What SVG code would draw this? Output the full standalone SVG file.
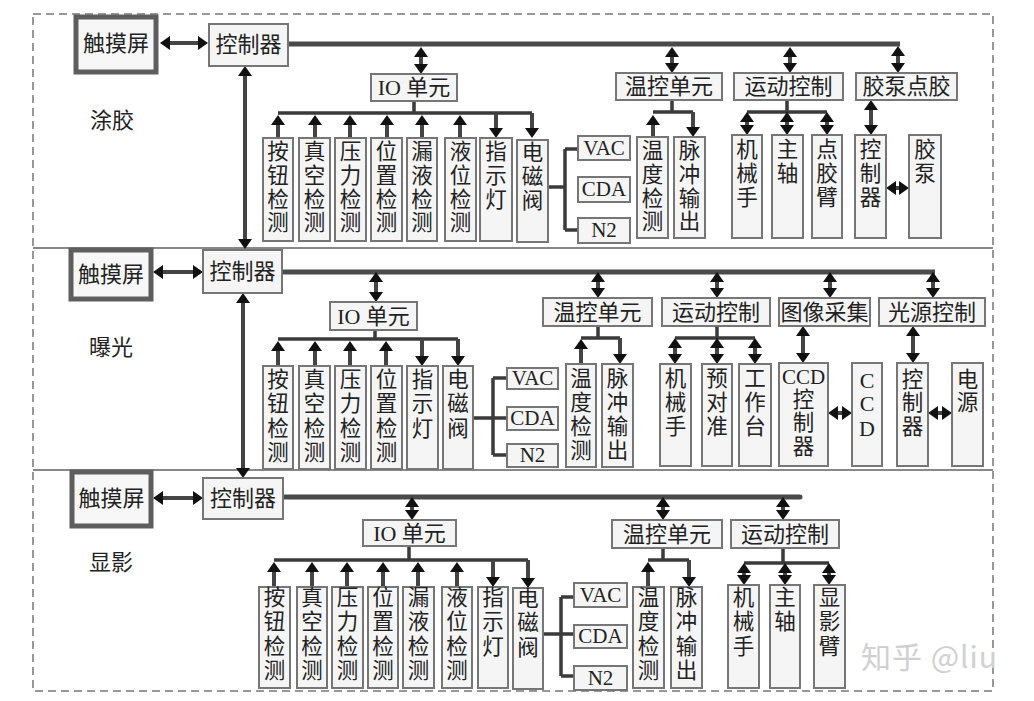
<svg xmlns="http://www.w3.org/2000/svg" width="1034" height="701" viewBox="0 0 1034 701">
<style>
.bx{fill:#f5f5f5;stroke:#767676;stroke-width:2}
.ts{fill:#f7f7f7;stroke:#5e5e5e;stroke-width:5}
.t{font-family:"Liberation Serif","Noto Sans CJK SC",serif;font-size:21px;fill:#222;text-anchor:middle}
.h{font-family:"Liberation Serif","Noto Sans CJK SC",serif;font-size:22px;fill:#222;text-anchor:middle}
.v{font-family:"Liberation Serif","Noto Sans CJK SC",serif;font-size:21.5px;fill:#222;text-anchor:middle}
.bus{stroke:#4a4a4a;stroke-width:5;fill:none}
.ln{stroke:#3a3a3a;stroke-width:3.5;fill:none}
.a2{stroke:#444;stroke-width:4;fill:none;marker-start:url(#ah);marker-end:url(#ah)}
.a1{stroke:#444;stroke-width:4;fill:none;marker-end:url(#ah)}
</style>
<defs>
<marker id="ah" viewBox="0 0 10 14" refX="4" refY="7" markerWidth="10" markerHeight="14" markerUnits="userSpaceOnUse" orient="auto-start-reverse"><path d="M0,0 L10,7 L0,14 z" fill="#111"/></marker>
</defs>
<rect x="0" y="0" width="1034" height="701" fill="#fff"/>
<rect x="33" y="14" width="960" height="677" fill="none" stroke="#777" stroke-width="1.5" stroke-dasharray="8 5"/>
<line x1="33" y1="248" x2="993" y2="248" stroke="#888" stroke-width="2"/>
<line x1="33" y1="470" x2="993" y2="470" stroke="#888" stroke-width="2"/>
<text class="h" x="112" y="128">涂胶</text>
<text class="h" x="111" y="355">曝光</text>
<text class="h" x="111" y="570">显影</text>

<g id="connectors">
<!-- top -->
<path class="a2" d="M166,43 H202"/>
<path class="bus" d="M288,44 H900"/>
<path class="a2" d="M245,72 V243"/>
<path class="a2" d="M421,53 V68"/>
<path class="a2" d="M672,53 V67"/>
<path class="a2" d="M790,53 V67"/>
<path class="a2" d="M898,52 V67"/>
<path class="ln" d="M414,101 V113 M278,113 H532"/>
<path class="a1" d="M278,138 V121"/>
<path class="a1" d="M315,138 V121"/>
<path class="a1" d="M350,138 V121"/>
<path class="a1" d="M387,138 V121"/>
<path class="a1" d="M422,138 V121"/>
<path class="a1" d="M460,138 V121"/>
<path class="a1" d="M496,113 V132"/>
<path class="a1" d="M532,113 V132"/>
<path class="ln" d="M548,187 H565 M565,149 V230 M565,149 H578 M565,230 H578"/>
<path class="ln" d="M672,100 V112 M653,112 H693"/>
<path class="a1" d="M653,137 V121"/>
<path class="a1" d="M693,112 V131"/>
<path class="ln" d="M787,100 V112 M747,112 H827"/>
<path class="a2" d="M747,118 V129"/>
<path class="a2" d="M787,118 V129"/>
<path class="a2" d="M827,118 V129"/>
<path class="a2" d="M871,106 V129"/>
<path class="a2" d="M892,188 H903"/>
<!-- middle -->
<path class="a2" d="M159,272 H197"/>
<path class="bus" d="M282,272 H935"/>
<path class="a2" d="M243,299 V472"/>
<path class="a2" d="M376,278 V296"/>
<path class="a2" d="M598,278 V292"/>
<path class="a2" d="M717,278 V292"/>
<path class="a2" d="M830,278 V292"/>
<path class="a2" d="M933,278 V292"/>
<path class="ln" d="M375,330 V339 M278,339 H458"/>
<path class="a1" d="M278,366 V347"/>
<path class="a1" d="M315,366 V347"/>
<path class="a1" d="M350,366 V347"/>
<path class="a1" d="M386,366 V347"/>
<path class="a1" d="M422,339 V360"/>
<path class="a1" d="M458,339 V360"/>
<path class="ln" d="M473,418 H507 M493,378 V455 M493,378 H507 M493,455 H507"/>
<path class="ln" d="M598,326 V338 M581,338 H620"/>
<path class="a1" d="M581,364 V345"/>
<path class="a1" d="M620,338 V358"/>
<path class="ln" d="M717,326 V338 M675,338 H755"/>
<path class="a2" d="M675,344 V358"/>
<path class="a2" d="M717,344 V358"/>
<path class="a2" d="M755,344 V358"/>
<path class="a2" d="M803,332 V357"/>
<path class="a2" d="M913,332 V357"/>
<path class="a2" d="M834,413 H846"/>
<path class="a2" d="M934,413 H946"/>
<!-- bottom -->
<path class="a2" d="M159,498 H197"/>
<path class="bus" d="M283,497 H800" stroke-linecap="round"/>
<path class="a2" d="M412,503 V514"/>
<path class="a2" d="M663,503 V514"/>
<path class="a2" d="M783,503 V514"/>
<path class="ln" d="M409,546 V560 M274,560 H528"/>
<path class="a1" d="M274,587 V568"/>
<path class="a1" d="M312,587 V568"/>
<path class="a1" d="M347,587 V568"/>
<path class="a1" d="M383,587 V568"/>
<path class="a1" d="M418,587 V568"/>
<path class="a1" d="M457,587 V568"/>
<path class="a1" d="M493,560 V581"/>
<path class="a1" d="M528,560 V582"/>
<path class="ln" d="M543,634 H574 M561,597 V676 M561,597 H574 M561,676 H574"/>
<path class="ln" d="M663,548 V560 M648,560 H689"/>
<path class="a1" d="M648,587 V568"/>
<path class="a1" d="M689,560 V581"/>
<path class="ln" d="M783,548 V563 M744,563 H829"/>
<path class="a2" d="M744,569 V579"/>
<path class="a2" d="M785,569 V579"/>
<path class="a2" d="M829,569 V579"/>
</g>

<!-- ===== TOP: 涂胶 ===== -->
<g id="top-touch"><rect class="ts" x="76" y="17" width="80" height="55"/><text class="h" x="116" y="51">触摸屏</text></g>
<g id="top-ctrl"><rect class="bx" x="209" y="24" width="79" height="42"/><text class="h" x="248.5" y="52">控制器</text></g>
<g id="top-io"><rect class="bx" x="371" y="74" width="86" height="27"/><text class="h" x="414" y="95">IO 单元</text></g>
<g id="top-temp"><rect class="bx" x="616" y="73" width="106" height="27"/><text class="h" x="669" y="94">温控单元</text></g>
<g id="top-motion"><rect class="bx" x="734" y="73" width="109" height="27"/><text class="h" x="788.5" y="94">运动控制</text></g>
<g id="top-pump"><rect class="bx" x="856" y="73" width="101" height="27"/><text class="h" x="906.5" y="94">胶泵点胶</text></g>

<g id="top-i1"><rect class="bx" x="263" y="138" width="30" height="103"/><text class="v"><tspan x="278" y="159">按</tspan><tspan x="278" y="183">钮</tspan><tspan x="278" y="207">检</tspan><tspan x="278" y="230">测</tspan></text></g>
<g id="top-i2"><rect class="bx" x="299" y="138" width="31" height="103"/><text class="v"><tspan x="314.5" y="159">真</tspan><tspan x="314.5" y="183">空</tspan><tspan x="314.5" y="207">检</tspan><tspan x="314.5" y="230">测</tspan></text></g>
<g id="top-i3"><rect class="bx" x="335" y="138" width="31" height="103"/><text class="v"><tspan x="350.5" y="159">压</tspan><tspan x="350.5" y="183">力</tspan><tspan x="350.5" y="207">检</tspan><tspan x="350.5" y="230">测</tspan></text></g>
<g id="top-i4"><rect class="bx" x="371" y="138" width="31" height="103"/><text class="v"><tspan x="386.5" y="159">位</tspan><tspan x="386.5" y="183">置</tspan><tspan x="386.5" y="207">检</tspan><tspan x="386.5" y="230">测</tspan></text></g>
<g id="top-i5"><rect class="bx" x="407" y="138" width="30" height="103"/><text class="v"><tspan x="422" y="159">漏</tspan><tspan x="422" y="183">液</tspan><tspan x="422" y="207">检</tspan><tspan x="422" y="230">测</tspan></text></g>
<g id="top-i6"><rect class="bx" x="445" y="138" width="31" height="103"/><text class="v"><tspan x="460.5" y="159">液</tspan><tspan x="460.5" y="183">位</tspan><tspan x="460.5" y="207">检</tspan><tspan x="460.5" y="230">测</tspan></text></g>
<g id="top-i7"><rect class="bx" x="480" y="138" width="32" height="103"/><text class="v"><tspan x="496" y="159">指</tspan><tspan x="496" y="183">示</tspan><tspan x="496" y="207">灯</tspan></text></g>
<g id="top-i8"><rect class="bx" x="517" y="140" width="31" height="102"/><text class="v"><tspan x="532.5" y="160">电</tspan><tspan x="532.5" y="184">磁</tspan><tspan x="532.5" y="208">阀</tspan></text></g>
<g id="top-vac"><rect class="bx" x="578" y="136" width="52" height="24"/><text class="t" x="604" y="155">VAC</text></g>
<g id="top-cda"><rect class="bx" x="578" y="177" width="52" height="25"/><text class="t" x="604" y="196">CDA</text></g>
<g id="top-n2"><rect class="bx" x="578" y="218" width="52" height="25"/><text class="t" x="604" y="237">N2</text></g>
<g id="top-t1"><rect class="bx" x="637" y="137" width="31" height="101"/><text class="v"><tspan x="652.5" y="158">温</tspan><tspan x="652.5" y="182">度</tspan><tspan x="652.5" y="206">检</tspan><tspan x="652.5" y="229">测</tspan></text></g>
<g id="top-t2"><rect class="bx" x="674" y="137" width="31" height="101"/><text class="v"><tspan x="689.5" y="158">脉</tspan><tspan x="689.5" y="182">冲</tspan><tspan x="689.5" y="206">输</tspan><tspan x="689.5" y="229">出</tspan></text></g>
<g id="top-m1"><rect class="bx" x="732" y="135" width="30" height="103"/><text class="v"><tspan x="747" y="157">机</tspan><tspan x="747" y="181">械</tspan><tspan x="747" y="205">手</tspan></text></g>
<g id="top-m2"><rect class="bx" x="772" y="135" width="31" height="103"/><text class="v"><tspan x="787.5" y="157">主</tspan><tspan x="787.5" y="181">轴</tspan></text></g>
<g id="top-m3"><rect class="bx" x="812" y="135" width="30" height="103"/><text class="v"><tspan x="827" y="157">点</tspan><tspan x="827" y="181">胶</tspan><tspan x="827" y="205">臂</tspan></text></g>
<g id="top-pc"><rect class="bx" x="855" y="135" width="31" height="103"/><text class="v"><tspan x="870.5" y="157">控</tspan><tspan x="870.5" y="181">制</tspan><tspan x="870.5" y="205">器</tspan></text></g>
<g id="top-pp"><rect class="bx" x="909" y="135" width="32" height="103"/><text class="v"><tspan x="925" y="157">胶</tspan><tspan x="925" y="181">泵</tspan></text></g>

<!-- ===== MIDDLE: 曝光 ===== -->
<g id="mid-touch"><rect class="ts" x="71" y="250" width="80" height="49"/><text class="h" x="111" y="282">触摸屏</text></g>
<g id="mid-ctrl"><rect class="bx" x="203" y="250" width="79" height="43"/><text class="h" x="242.5" y="279">控制器</text></g>
<g id="mid-io"><rect class="bx" x="330" y="302" width="87" height="28"/><text class="h" x="373.5" y="324">IO 单元</text></g>
<g id="mid-temp"><rect class="bx" x="543" y="298" width="109" height="28"/><text class="h" x="597.5" y="320">温控单元</text></g>
<g id="mid-motion"><rect class="bx" x="662" y="298" width="108" height="28"/><text class="h" x="716" y="320">运动控制</text></g>
<g id="mid-img"><rect class="bx" x="779" y="298" width="91" height="28"/><text class="h" x="824.5" y="320">图像采集</text></g>
<g id="mid-light"><rect class="bx" x="879" y="298" width="106" height="28"/><text class="h" x="932" y="320">光源控制</text></g>

<g id="mid-i1"><rect class="bx" x="263" y="366" width="30" height="103"/><text class="v"><tspan x="278" y="387">按</tspan><tspan x="278" y="411">钮</tspan><tspan x="278" y="436">检</tspan><tspan x="278" y="460">测</tspan></text></g>
<g id="mid-i2"><rect class="bx" x="299" y="366" width="31" height="103"/><text class="v"><tspan x="314.5" y="387">真</tspan><tspan x="314.5" y="411">空</tspan><tspan x="314.5" y="436">检</tspan><tspan x="314.5" y="460">测</tspan></text></g>
<g id="mid-i3"><rect class="bx" x="335" y="366" width="31" height="103"/><text class="v"><tspan x="350.5" y="387">压</tspan><tspan x="350.5" y="411">力</tspan><tspan x="350.5" y="436">检</tspan><tspan x="350.5" y="460">测</tspan></text></g>
<g id="mid-i4"><rect class="bx" x="371" y="366" width="31" height="103"/><text class="v"><tspan x="386.5" y="387">位</tspan><tspan x="386.5" y="411">置</tspan><tspan x="386.5" y="436">检</tspan><tspan x="386.5" y="460">测</tspan></text></g>
<g id="mid-i5"><rect class="bx" x="407" y="366" width="31" height="103"/><text class="v"><tspan x="422.5" y="387">指</tspan><tspan x="422.5" y="411">示</tspan><tspan x="422.5" y="436">灯</tspan></text></g>
<g id="mid-i6"><rect class="bx" x="443" y="366" width="30" height="103"/><text class="v"><tspan x="458" y="387">电</tspan><tspan x="458" y="411">磁</tspan><tspan x="458" y="436">阀</tspan></text></g>
<g id="mid-vac"><rect class="bx" x="507" y="368" width="51" height="21"/><text class="t" x="532.5" y="385">VAC</text></g>
<g id="mid-cda"><rect class="bx" x="507" y="407" width="51" height="23"/><text class="t" x="532.5" y="425">CDA</text></g>
<g id="mid-n2"><rect class="bx" x="507" y="444" width="51" height="23"/><text class="t" x="532.5" y="462">N2</text></g>
<g id="mid-t1"><rect class="bx" x="566" y="364" width="30" height="103"/><text class="v"><tspan x="581" y="386">温</tspan><tspan x="581" y="410">度</tspan><tspan x="581" y="434">检</tspan><tspan x="581" y="458">测</tspan></text></g>
<g id="mid-t2"><rect class="bx" x="602" y="364" width="31" height="103"/><text class="v"><tspan x="617.5" y="386">脉</tspan><tspan x="617.5" y="410">冲</tspan><tspan x="617.5" y="434">输</tspan><tspan x="617.5" y="458">出</tspan></text></g>
<g id="mid-m1"><rect class="bx" x="660" y="364" width="31" height="102"/><text class="v"><tspan x="675.5" y="386">机</tspan><tspan x="675.5" y="410">械</tspan><tspan x="675.5" y="434">手</tspan></text></g>
<g id="mid-m2"><rect class="bx" x="702" y="364" width="30" height="102"/><text class="v"><tspan x="717" y="386">预</tspan><tspan x="717" y="410">对</tspan><tspan x="717" y="434">准</tspan></text></g>
<g id="mid-m3"><rect class="bx" x="739" y="364" width="32" height="102"/><text class="v"><tspan x="755" y="386">工</tspan><tspan x="755" y="410">作</tspan><tspan x="755" y="434">台</tspan></text></g>
<g id="mid-ccdc"><rect class="bx" x="779" y="363" width="49" height="103"/><text class="v"><tspan x="803.5" y="384" style="font-size:21px">CCD</tspan><tspan x="803.5" y="407">控</tspan><tspan x="803.5" y="430">制</tspan><tspan x="803.5" y="454">器</tspan></text></g>
<g id="mid-ccd"><rect class="bx" x="852" y="363" width="30" height="103"/><text class="v" style="font-size:22px"><tspan x="867" y="388">C</tspan><tspan x="867" y="411">C</tspan><tspan x="867" y="436">D</tspan></text></g>
<g id="mid-lc"><rect class="bx" x="897" y="363" width="31" height="103"/><text class="v"><tspan x="912.5" y="387">控</tspan><tspan x="912.5" y="410">制</tspan><tspan x="912.5" y="434">器</tspan></text></g>
<g id="mid-ps"><rect class="bx" x="952" y="363" width="31" height="103"/><text class="v"><tspan x="967.5" y="387">电</tspan><tspan x="967.5" y="410">源</tspan></text></g>

<!-- ===== BOTTOM: 显影 ===== -->
<g id="bot-touch"><rect class="ts" x="72" y="472" width="79" height="54"/><text class="h" x="111.5" y="506">触摸屏</text></g>
<g id="bot-ctrl"><rect class="bx" x="203" y="478" width="80" height="41"/><text class="h" x="243" y="506">控制器</text></g>
<g id="bot-io"><rect class="bx" x="363" y="520" width="93" height="26"/><text class="h" x="409.5" y="541">IO 单元</text></g>
<g id="bot-temp"><rect class="bx" x="612" y="520" width="110" height="28"/><text class="h" x="667" y="542">温控单元</text></g>
<g id="bot-motion"><rect class="bx" x="731" y="520" width="108" height="28"/><text class="h" x="785" y="542">运动控制</text></g>

<g id="bot-i1"><rect class="bx" x="259" y="587" width="31" height="101"/><text class="v"><tspan x="274.5" y="605">按</tspan><tspan x="274.5" y="629">钮</tspan><tspan x="274.5" y="654">检</tspan><tspan x="274.5" y="678">测</tspan></text></g>
<g id="bot-i2"><rect class="bx" x="297" y="587" width="30" height="101"/><text class="v"><tspan x="312" y="605">真</tspan><tspan x="312" y="629">空</tspan><tspan x="312" y="654">检</tspan><tspan x="312" y="678">测</tspan></text></g>
<g id="bot-i3"><rect class="bx" x="332" y="587" width="31" height="101"/><text class="v"><tspan x="347.5" y="605">压</tspan><tspan x="347.5" y="629">力</tspan><tspan x="347.5" y="654">检</tspan><tspan x="347.5" y="678">测</tspan></text></g>
<g id="bot-i4"><rect class="bx" x="368" y="587" width="30" height="101"/><text class="v"><tspan x="383" y="605">位</tspan><tspan x="383" y="629">置</tspan><tspan x="383" y="654">检</tspan><tspan x="383" y="678">测</tspan></text></g>
<g id="bot-i5"><rect class="bx" x="403" y="587" width="31" height="101"/><text class="v"><tspan x="418.5" y="605">漏</tspan><tspan x="418.5" y="629">液</tspan><tspan x="418.5" y="654">检</tspan><tspan x="418.5" y="678">测</tspan></text></g>
<g id="bot-i6"><rect class="bx" x="442" y="587" width="30" height="101"/><text class="v"><tspan x="457" y="605">液</tspan><tspan x="457" y="629">位</tspan><tspan x="457" y="654">检</tspan><tspan x="457" y="678">测</tspan></text></g>
<g id="bot-i7"><rect class="bx" x="478" y="587" width="30" height="101"/><text class="v"><tspan x="493" y="605">指</tspan><tspan x="493" y="629">示</tspan><tspan x="493" y="654">灯</tspan></text></g>
<g id="bot-i8"><rect class="bx" x="513" y="588" width="30" height="101"/><text class="v"><tspan x="528" y="606">电</tspan><tspan x="528" y="630">磁</tspan><tspan x="528" y="655">阀</tspan></text></g>
<g id="bot-vac"><rect class="bx" x="574" y="583" width="53" height="24"/><text class="t" x="600.5" y="602">VAC</text></g>
<g id="bot-cda"><rect class="bx" x="574" y="625" width="53" height="23"/><text class="t" x="600.5" y="643">CDA</text></g>
<g id="bot-n2"><rect class="bx" x="574" y="666" width="53" height="24"/><text class="t" x="600.5" y="685">N2</text></g>
<g id="bot-t1"><rect class="bx" x="633" y="587" width="31" height="101"/><text class="v"><tspan x="648.5" y="605">温</tspan><tspan x="648.5" y="629">度</tspan><tspan x="648.5" y="654">检</tspan><tspan x="648.5" y="678">测</tspan></text></g>
<g id="bot-t2"><rect class="bx" x="671" y="587" width="31" height="101"/><text class="v"><tspan x="686.5" y="605">脉</tspan><tspan x="686.5" y="629">冲</tspan><tspan x="686.5" y="654">输</tspan><tspan x="686.5" y="678">出</tspan></text></g>
<g id="bot-m1"><rect class="bx" x="728" y="585" width="31" height="103"/><text class="v"><tspan x="743.5" y="605">机</tspan><tspan x="743.5" y="629">械</tspan><tspan x="743.5" y="654">手</tspan></text></g>
<g id="bot-m2"><rect class="bx" x="770" y="585" width="30" height="103"/><text class="v"><tspan x="785" y="605">主</tspan><tspan x="785" y="629">轴</tspan></text></g>
<g id="bot-m3"><rect class="bx" x="814" y="585" width="31" height="103"/><text class="v"><tspan x="829.5" y="605">显</tspan><tspan x="829.5" y="629">影</tspan><tspan x="829.5" y="654">臂</tspan></text></g>

<text x="861" y="668" style="font-family:'Noto Sans CJK SC','Noto Sans',sans-serif;font-size:30px;letter-spacing:1px;fill:#d0d0d0">知乎 @liu</text>
</svg>
